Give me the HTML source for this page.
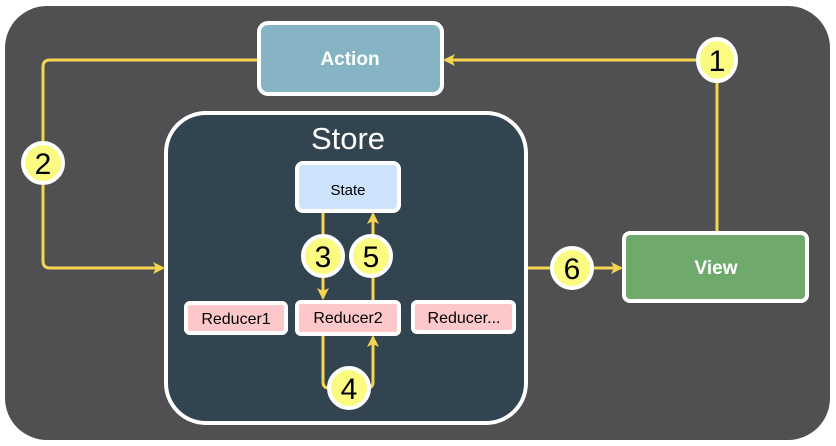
<!DOCTYPE html>
<html><head><style>
body{margin:0;background:#fff;}
svg{display:block;font-family:"Liberation Sans",Arial,sans-serif;}
</style></head><body>
<svg width="836" height="446" viewBox="0 0 836 446">
<defs>
<marker id="a" markerWidth="12" markerHeight="12" refX="10" refY="6" orient="auto" markerUnits="userSpaceOnUse">
<path d="M0,0 L12,6 L0,12 L3,6 Z" fill="#f5d550"/>
</marker>
</defs>
<rect x="5" y="6" width="825" height="434" rx="42" fill="#505052"/>
<g stroke="#f5d550" stroke-width="3" fill="none">
<path d="M258,60 H50 Q43,60 43,67 V261 Q43,268 50,268 H163" marker-end="url(#a)"/>
<path d="M717,232 V60 H445" marker-end="url(#a)"/>
<path d="M527,268 H621" marker-end="url(#a)"/>
</g>
<rect x="259" y="23" width="183" height="71" rx="9" fill="#86b4c5" stroke="#fff" stroke-width="4"/>
<text x="350" y="65" text-anchor="middle" font-size="19" fill="#fff" font-weight="bold">Action</text>
<rect x="166" y="113" width="360" height="310" rx="40" fill="#324450" stroke="#fff" stroke-width="4"/>
<text x="348" y="149" text-anchor="middle" font-size="31" fill="#fff">Store</text>
<g stroke="#f5d550" stroke-width="3" fill="none">
<path d="M323,212 V298" marker-end="url(#a)"/>
<path d="M373,300 V214" marker-end="url(#a)"/>
<path d="M323,335 V382 Q323,388 329,388 H367 Q373,388 373,382 V337" marker-end="url(#a)"/>
</g>
<rect x="297" y="163" width="102" height="48" rx="6" fill="#cce3fb" stroke="#fff" stroke-width="4"/>
<text x="348" y="195" text-anchor="middle" font-size="15" fill="#000">State</text>
<g stroke="#fff" stroke-width="4" fill="#fcc8c9">
<rect x="186" y="303" width="100" height="30" rx="4"/>
<rect x="297" y="302" width="102" height="32" rx="4"/>
<rect x="413" y="302" width="101" height="30" rx="4"/>
</g>
<g font-size="16" fill="#000" text-anchor="middle">
<text x="236" y="324">Reducer1</text>
<text x="348" y="323">Reducer2</text>
<text x="464" y="323">Reducer...</text>
</g>
<rect x="624" y="233" width="183" height="68" rx="6" fill="#6fa96b" stroke="#fff" stroke-width="4"/>
<text x="716" y="274" text-anchor="middle" font-size="19" fill="#fff" font-weight="bold">View</text>
<g fill="#fbfb82" stroke="#fff" stroke-width="4">
<ellipse cx="717" cy="60" rx="19" ry="21"/>
<circle cx="43" cy="163" r="20"/>
<circle cx="323" cy="256" r="20"/>
<circle cx="371" cy="256" r="20"/>
<circle cx="349" cy="388" r="20"/>
<circle cx="572" cy="268" r="20"/>
</g>
<g font-size="30" fill="#000" text-anchor="middle">
<text x="717" y="71">1</text>
<text x="43" y="174">2</text>
<text x="323" y="267">3</text>
<text x="371" y="267">5</text>
<text x="349" y="399">4</text>
<text x="572" y="279">6</text>
</g>
</svg>
</body></html>
